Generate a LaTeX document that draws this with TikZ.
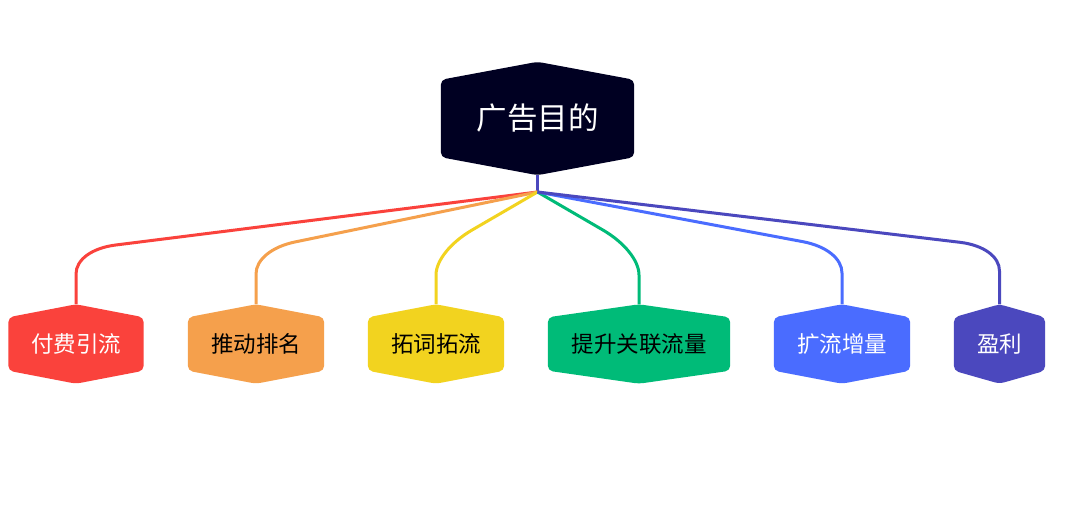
\documentclass[tikz,border=0pt]{standalone}
\usepackage{fontspec}
\setmainfont{Noto Sans CJK SC}
\usetikzlibrary{calc,backgrounds}
\definecolor{cRoot}{HTML}{000022}
\definecolor{cRed}{HTML}{FA423C}
\definecolor{cOrange}{HTML}{F5A04C}
\definecolor{cYellow}{HTML}{F2D31F}
\definecolor{cGreen}{HTML}{00BB78}
\definecolor{cBlue}{HTML}{4A6CFF}
\definecolor{cPurple}{HTML}{4B48BE}
\tikzset{
  conn/.style={line width=3pt},
}
\newcommand\hexnode[8]{%
  \node[minimum width=#3, minimum height=#4, inner sep=0pt, text=#7] (#1) at #2 {#8};
  \begin{scope}[on background layer]
  \fill[#6, rounded corners=5pt] (#1.north) -- ($(#1.north east)+(0,#5)$) -- ($(#1.south east)+(0,-#5)$) -- (#1.south) -- ($(#1.south west)+(0,-#5)$) -- ($(#1.north west)+(0,#5)$) -- cycle;
  \end{scope}}
% connector: colour, child name, corner y, diagonal cut, vertical cut
\newcommand\linkto[5]{%
  \coordinate (k-#2) at (#2.north |- 0,#3);
  \coordinate (p-#2) at ($(k-#2)!#4pt!(j)$);
  \coordinate (q-#2) at ($(k-#2)+(0,#5)$);
  \draw[conn, #1] (j) -- (p-#2) .. controls ($(p-#2)!0.6!(k-#2)$) and ($(q-#2)!0.6!(k-#2)$) .. (q-#2) -- (#2.north);}
\begin{document}
\begin{tikzpicture}[x=1pt,y=-1pt]
\begin{scope}[on background layer]
\fill[white] (0,0) rectangle (1080,513);
\end{scope}
\useasboundingbox (0,0) rectangle (1080,513);
\hexnode{root}{(537.5,118.5)}{193pt}{113pt}{18}{cRoot}{white}{\fontsize{30.5}{36}\selectfont 广告目的}
\hexnode{c1}{(76,344)}{135pt}{79pt}{13}{cRed}{white}{\fontsize{22.5}{27}\selectfont 付费引流}
\hexnode{c2}{(256,344)}{136pt}{79pt}{13}{cOrange}{black}{\fontsize{22.5}{27}\selectfont 推动排名}
\hexnode{c3}{(436,344)}{136pt}{79pt}{13}{cYellow}{black}{\fontsize{22.5}{27}\selectfont 拓词拓流}
\hexnode{c4}{(639,344)}{182pt}{79pt}{13}{cGreen}{black}{\fontsize{22.5}{27}\selectfont 提升关联流量}
\hexnode{c5}{(842,344)}{136pt}{79pt}{13}{cBlue}{white}{\fontsize{22.5}{27}\selectfont 扩流增量}
\hexnode{c6}{(999.5,344)}{91pt}{79pt}{13}{cPurple}{white}{\fontsize{22.5}{27}\selectfont 盈利}
\coordinate (j) at (537.5,192);
\begin{scope}[on background layer]
\draw[conn, cPurple] (root.south) -- (j);
\linkto{cRed}{c1}{250}{40}{24}
\linkto{cOrange}{c2}{250}{40}{24}
\linkto{cYellow}{c3}{251}{42}{24}
\linkto{cGreen}{c4}{251}{42}{24}
\linkto{cBlue}{c5}{249}{40}{24}
\linkto{cPurple}{c6}{247}{40}{24}
\end{scope}
\end{tikzpicture}
\end{document}
